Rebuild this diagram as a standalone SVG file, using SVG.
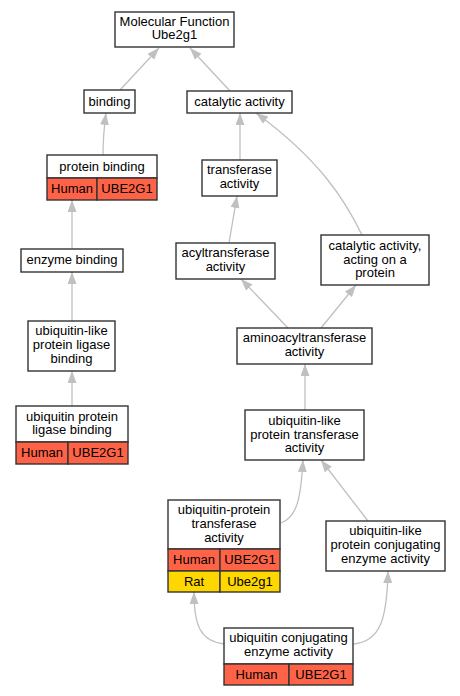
<svg xmlns="http://www.w3.org/2000/svg" width="460" height="696" viewBox="0 0 460 696">
<style>
.box{fill:#ffffff;stroke:#333333;stroke-width:1.4}
.red{fill:#ff6347;stroke:#333333;stroke-width:1.4}
.gold{fill:#ffd700;stroke:#333333;stroke-width:1.4}
text{font-family:"Liberation Sans",Arial,sans-serif;font-size:13px;fill:#000000;text-anchor:middle}
.edge{fill:none;stroke:#c0c0c0;stroke-width:1.3;marker-end:url(#arr)}
</style>
<defs>
<marker id="arr" markerUnits="userSpaceOnUse" markerWidth="13" markerHeight="10" refX="12" refY="4.5" orient="auto">
<path d="M0,0 L12,4.5 L0,9 z" fill="#c0c0c0"/>
</marker>
</defs>
<rect width="460" height="696" fill="#ffffff"/>
<g id="edges">
<path class="edge" d="M120,90 L159,48"/>
<path class="edge" d="M230,91 L190,48"/>
<path class="edge" d="M103,155 C103,140 104,128 106,113"/>
<path class="edge" d="M72,249 L72,200"/>
<path class="edge" d="M72,321 L72,272"/>
<path class="edge" d="M72,406 L72,371"/>
<path class="edge" d="M240,160 L240,113"/>
<path class="edge" d="M362,235 C345,200 320,160 256,113"/>
<path class="edge" d="M229,243 L237,196"/>
<path class="edge" d="M288,328 L241,279"/>
<path class="edge" d="M321,328 L356,285"/>
<path class="edge" d="M305,410 L305,364"/>
<path class="edge" d="M281,523 C298,517 301,495 303,460"/>
<path class="edge" d="M368,521 L321,460"/>
<path class="edge" d="M224,644 C200,641 194,625 194,592"/>
<path class="edge" d="M354,644 C380,641 387,620 388,571"/>
</g>
<g id="mf">
<rect class="box" x="115" y="12" width="119" height="35"/>
<text x="174.5" y="25.6">Molecular Function</text>
<text x="174.5" y="39.4">Ube2g1</text>
</g>
<g id="binding">
<rect class="box" x="84" y="90" width="51" height="23"/>
<text x="109.5" y="105.5">binding</text>
</g>
<g id="catalytic">
<rect class="box" x="187" y="91" width="105" height="22"/>
<text x="239.5" y="106">catalytic activity</text>
</g>
<g id="protein-binding">
<rect class="box" x="47" y="155" width="110" height="23"/>
<text x="102" y="170.5">protein binding</text>
<rect class="red" x="47" y="178" width="50" height="22"/>
<rect class="red" x="97" y="178" width="60" height="22"/>
<text x="72" y="193">Human</text>
<text x="127" y="193">UBE2G1</text>
</g>
<g id="transferase">
<rect class="box" x="202" y="160" width="75" height="36"/>
<text x="239.5" y="174.1">transferase</text>
<text x="239.5" y="187.9">activity</text>
</g>
<g id="acyltransferase">
<rect class="box" x="176" y="243" width="99" height="36"/>
<text x="225.5" y="257.1">acyltransferase</text>
<text x="225.5" y="270.9">activity</text>
</g>
<g id="catalytic-protein">
<rect class="box" x="321" y="235" width="108" height="50"/>
<text x="375" y="249.8">catalytic activity,</text>
<text x="375" y="263.5">acting on a</text>
<text x="375" y="277.2">protein</text>
</g>
<g id="enzyme-binding">
<rect class="box" x="21" y="249" width="102" height="23"/>
<text x="72" y="264">enzyme binding</text>
</g>
<g id="ubl-ligase-binding">
<rect class="box" x="28" y="321" width="87" height="50"/>
<text x="71.5" y="335.3">ubiquitin-like</text>
<text x="71.5" y="349">protein ligase</text>
<text x="71.5" y="362.7">binding</text>
</g>
<g id="ub-ligase-binding">
<rect class="box" x="16" y="406" width="112" height="36"/>
<text x="72" y="420.6">ubiquitin protein</text>
<text x="72" y="434.4">ligase binding</text>
<rect class="red" x="16" y="442" width="52" height="22"/>
<rect class="red" x="68" y="442" width="60" height="22"/>
<text x="42" y="457">Human</text>
<text x="98" y="457">UBE2G1</text>
</g>
<g id="aminoacyl">
<rect class="box" x="237" y="328" width="135" height="36"/>
<text x="304.5" y="342.1">aminoacyltransferase</text>
<text x="304.5" y="355.9">activity</text>
</g>
<g id="ubl-transferase">
<rect class="box" x="245" y="410" width="119" height="50"/>
<text x="304.5" y="424.8">ubiquitin-like</text>
<text x="304.5" y="438.5">protein transferase</text>
<text x="304.5" y="452.2">activity</text>
</g>
<g id="ub-transferase">
<rect class="box" x="168" y="500" width="112" height="49"/>
<text x="224" y="514.3">ubiquitin-protein</text>
<text x="224" y="528">transferase</text>
<text x="224" y="541.7">activity</text>
<rect class="red" x="168" y="549" width="52" height="22"/>
<rect class="red" x="220" y="549" width="60" height="22"/>
<text x="194" y="564">Human</text>
<text x="250" y="564">UBE2G1</text>
<rect class="gold" x="168" y="571" width="52" height="21"/>
<rect class="gold" x="220" y="571" width="60" height="21"/>
<text x="194" y="585.5">Rat</text>
<text x="250" y="585.5">Ube2g1</text>
</g>
<g id="ubl-conjugating">
<rect class="box" x="326" y="521" width="119" height="50"/>
<text x="385.5" y="535.3">ubiquitin-like</text>
<text x="385.5" y="549">protein conjugating</text>
<text x="385.5" y="562.7">enzyme activity</text>
</g>
<g id="ub-conjugating">
<rect class="box" x="224" y="628" width="129" height="36"/>
<text x="288.5" y="642.3">ubiquitin conjugating</text>
<text x="288.5" y="656.1">enzyme activity</text>
<rect class="red" x="224" y="664" width="65" height="21"/>
<rect class="red" x="289" y="664" width="64" height="21"/>
<text x="256.5" y="678.5">Human</text>
<text x="321" y="678.5">UBE2G1</text>
</g>
</svg>
